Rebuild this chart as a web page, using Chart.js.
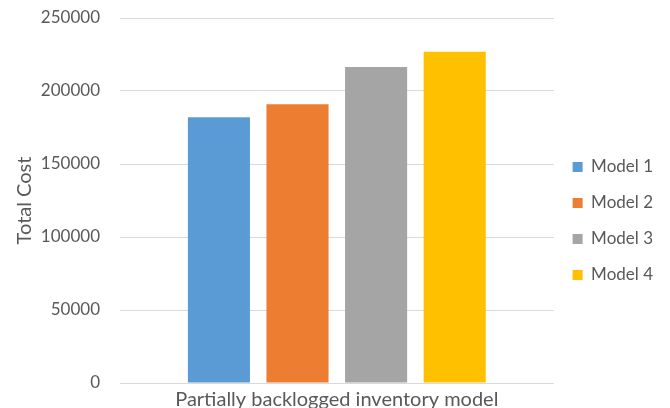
<!DOCTYPE html>
<html>
<head>
<meta charset="utf-8">
<script src="https://cdn.jsdelivr.net/npm/chart.js@4"></script>
<style>
  html, body { margin: 0; padding: 0; background: #fff; overflow: hidden; }
  canvas { display: block; }
</style>
</head>
<body>
<canvas id="cost-chart" width="670" height="408"></canvas>
<script>
// values
const categories = ['Partially backlogged inventory model'];
const modelNames = ['Model 1', 'Model 2', 'Model 3', 'Model 4'];
const totalCosts = [182000, 191000, 216500, 226800];
const modelColors = ['#5B9BD5', '#ED7D31', '#A5A5A5', '#FFC000'];
const yTicks = [0, 50000, 100000, 150000, 200000, 250000];

const TEXT = '#595959';
const GRID = '#D9D9D9';
const FONT = 'Lato, "Open Sans", sans-serif';

Chart.defaults.font.family = FONT;
Chart.defaults.color = TEXT;

const datasets = modelNames.map((name, i) => ({
  label: name,
  data: [totalCosts[i]],
  backgroundColor: modelColors[i],
  borderWidth: 0,
  categoryPercentage: 0.725,
  barPercentage: 0.79
}));

new Chart(document.getElementById('cost-chart').getContext('2d'), {
  type: 'bar',
  data: { labels: categories, datasets: datasets },
  options: {
    responsive: false,
    animation: false,
    layout: { padding: { top: 18, right: 7, bottom: 0, left: 0 } },
    scales: {
      x: {
        grid: { display: false },
        border: { display: true, color: GRID, width: 1 },
        afterFit: function(scale) {
          scale.height = 25;
        },
        ticks: {
          color: TEXT,
          padding: -1,
          font: { size: 20, lineHeight: 1 }
        }
      },
      y: {
        min: yTicks[0],
        max: yTicks[yTicks.length - 1],
        afterBuildTicks: function(scale) {
          scale.ticks = yTicks.map(v => ({ value: v }));
        },
        afterFit: function(scale) {
          scale.width = 120;
        },
        // invisible tick marks keep the labels away from the plot
        grid: { color: GRID, lineWidth: 1, drawTicks: true, tickLength: 18, tickColor: 'rgba(0,0,0,0)' },
        border: { display: false },
        ticks: {
          color: TEXT,
          padding: 2,
          font: { size: 17 },
          callback: function(value) { return String(value); }
        },
        title: {
          display: true,
          text: 'Total Cost',
          color: TEXT,
          font: { size: 20, lineHeight: 1.2 },
          padding: { top: 13, bottom: 0 }
        }
      }
    },
    plugins: {
      legend: {
        position: 'right',
        title: {
          display: true,
          text: ' ',
          font: { size: 10, lineHeight: 1 },
          padding: { top: 3, bottom: 3 }
        },
        labels: {
          color: TEXT,
          boxWidth: 10,
          boxHeight: 10,
          padding: 19,
          font: { size: 17 }
        }
      },
      tooltip: { enabled: false }
    }
  }
});
</script>
</body>
</html>
